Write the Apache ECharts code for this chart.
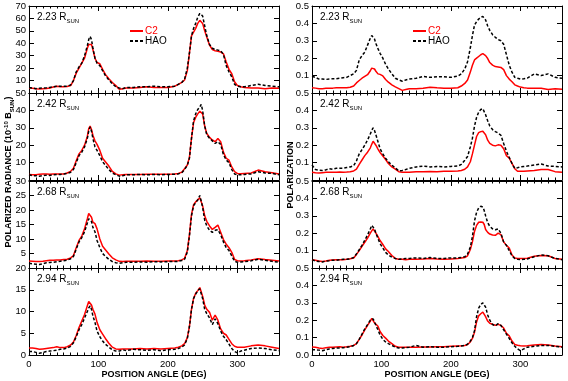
<!DOCTYPE html>
<html>
<head>
<meta charset="utf-8">
<script src="https://cdn.jsdelivr.net/npm/echarts@6/dist/echarts.min.js"></script>
<style>
  html, body { margin: 0; padding: 0; background: #fff; }
  #chart { width: 568px; height: 381px; }
</style>
</head>
<body>
<div id="chart"></div>
<script>
// position angle (deg), shared by every curve
const angles = [0, 5, 10, 15, 20, 25, 30, 35, 40, 45, 50, 55, 60,
  64, 68, 72, 76, 80, 84, 86, 88, 90, 92, 95, 98,
  102, 106, 110, 115, 120, 125, 130, 135, 140,
  150, 160, 170, 180, 190, 200, 210,
  215, 220, 224, 228, 231, 234, 237, 240, 243, 246, 248, 250, 253, 256, 260,
  264, 268, 272, 276, 280, 284, 288, 292, 296, 300,
  305, 310, 320, 330, 340, 350, 360]

const heights = ['2.23', '2.42', '2.68', '2.94']

// polarized radiance (1e-10 Bsun)
const c2_223 = [4, 3.8, 3.5, 3.3, 3.5, 3.6, 4, 4.8, 5.5, 5, 5, 5.2, 6,
  10, 16, 20, 24, 28, 36, 39, 40.5, 39, 35, 28, 24.5,
  23.5, 19, 15, 11.5, 8.5, 6, 3, 3.5, 4,
  4, 4.5, 5, 4.5, 4.5, 4.5, 5.5,
  7, 8.5, 10.5, 18, 32, 46, 49, 52, 56, 58.5, 59.5, 56, 50, 45, 38.5,
  35, 34, 33.5, 33, 31.5, 25, 19, 15.5, 9, 6,
  5, 4.5, 4, 4, 3.5, 4, 3.8]
const hao_223 = [4.5, 4, 3.5, 3.8, 4, 4.2, 4.5, 5, 5.5, 5.5, 5.5, 5.5, 6.5,
  10, 17, 21, 24, 30, 38, 43, 45.5, 43, 36, 28, 24,
  22, 18, 14, 10.5, 7.5, 5, 4, 3.5, 4.5,
  4.5, 5, 5, 5.5, 5, 5, 5.5,
  7, 8.5, 11, 20, 32, 46, 52, 56, 61, 64, 65, 62, 54, 46, 39,
  36, 35, 34.5, 34, 31, 22, 17, 13, 7, 5.5,
  5, 5, 6, 7, 6, 5.5, 5]
const c2_242 = [3.2, 3, 3, 3.3, 3.5, 3.5, 3.3, 3.5, 3.5, 3.5, 3.5, 4, 5,
  6.7, 11, 15, 17, 20, 25, 29.5, 31, 29, 25.7, 22.5, 20.5,
  17, 12.5, 10.5, 8, 5, 3.5, 2.8, 3, 3.2,
  3.2, 3.2, 3.3, 3.3, 3.3, 3.3, 3.5,
  3.8, 4.5, 6.5, 8.6, 13, 24, 33, 36, 38, 39.5, 40.5, 38, 31, 26.7, 24.5,
  23, 22, 23.8, 22, 16, 12.5, 11.4, 7.5, 4.8, 3.8,
  3.6, 3.8, 4, 5.7, 4.8, 4.2, 3.5]
const hao_242 = [3, 2.5, 2.5, 2.2, 2.5, 2.8, 2.6, 3, 3.2, 3.2, 3.5, 3.8, 4.5,
  6, 10, 14, 16, 19, 24, 28, 30.5, 28, 24, 19, 17,
  14, 10.5, 8.5, 6, 4, 3, 2.2, 2.5, 3,
  3, 3.2, 3, 3.2, 3, 3.2, 3.3,
  3.5, 4.2, 6, 8.5, 12.5, 24, 34, 38, 40.5, 42, 43.5, 40, 31, 26, 24,
  22.5, 21, 22, 20.5, 14.5, 11.5, 10, 6, 3.5, 3,
  3, 3.2, 3.5, 4.8, 4, 3.8, 3]
const c2_268 = [2.4, 2.3, 2.2, 2.2, 2.3, 2.5, 2.7, 2.7, 2.8, 2.8, 2.9, 3, 3.5,
  4.3, 7, 9.5, 11, 13.5, 17, 18.8, 19.3, 17.5, 15.8, 15.3, 13.5,
  10, 7.5, 6.3, 4.8, 3.5, 2.8, 2.3, 2.2, 2.3,
  2.3, 2.3, 2.4, 2.3, 2.3, 2.4, 2.4,
  2.5, 2.8, 3.3, 6, 11.5, 18.5, 21.8, 22.8, 23.5, 24.2, 24, 21.5, 18, 16.1, 14.5,
  13.3, 14, 14.8, 12.3, 9.8, 8.2, 7, 5.4, 3, 2.5,
  2.4, 2.5, 2.8, 3.2, 2.9, 2.7, 2.4]
const hao_268 = [1.6, 1.4, 1.3, 1.2, 1.5, 1.8, 1.9, 2, 2.2, 2.3, 2.5, 2.7, 3.2,
  4, 6.5, 9, 10.5, 12.5, 15.5, 17, 17.5, 16, 14, 12.5, 9.5,
  7, 5, 4, 3, 2.2, 1.8, 1.6, 1.8, 2,
  2, 2.1, 2, 2.2, 2.1, 2.2, 2.2,
  2.3, 2.6, 3, 5.5, 11, 18, 21.5, 22.5, 23.5, 25, 24.5, 21, 16.5, 14.5, 13,
  12.3, 13, 13.2, 11.5, 9, 7, 6, 4.2, 2.3, 2,
  2.1, 2.2, 2.5, 3, 2.7, 2.3, 2]
const c2_294 = [1.6, 1.6, 1.5, 1.3, 1.4, 1.5, 1.6, 1.7, 1.9, 1.7, 1.7, 1.9, 2.3,
  3, 4.5, 6.3, 7.8, 9.3, 11.3, 12.3, 12.6, 11.5, 10.5, 9.4, 7.5,
  5.8, 4.8, 3.8, 2.7, 1.8, 1.4, 1.3, 1.4, 1.4,
  1.4, 1.5, 1.4, 1.5, 1.4, 1.5, 1.6,
  1.8, 2.1, 2.6, 4, 6.5, 10.5, 13, 14.2, 14.8, 15.5, 15.2, 13.5, 11.5, 10.5, 9.8,
  8, 9.2, 8, 6, 5, 4.6, 3.6, 2.6, 2, 1.8,
  1.8, 1.8, 2.1, 2.3, 2.1, 1.8, 1.5]
const hao_294 = [0.8, 0.8, 0.6, 0.4, 0.6, 0.8, 0.9, 1, 1.1, 1.3, 1.4, 1.6, 2,
  2.8, 4.2, 5.8, 7, 8.5, 10, 10.8, 11.3, 10.5, 9, 7.5, 5.5,
  4.2, 3.2, 2.5, 1.8, 1.2, 0.9, 0.9, 1.2, 1,
  1.3, 1.2, 1.1, 1.2, 1, 1.2, 1.3,
  1.5, 1.8, 2.3, 3.8, 6.5, 10.5, 13, 14, 14.8, 15.2, 15, 13, 10.5, 9.5, 8.5,
  7, 8.3, 7.2, 5.5, 4.3, 3.5, 2.5, 1.5, 0.8, 0.5,
  0.9, 1.1, 1.5, 1.6, 1.5, 1.2, 1]

// polarization
const c2p_223 = [0.03, 0.028, 0.025, 0.025, 0.027, 0.027, 0.028, 0.03, 0.03, 0.03, 0.03, 0.033, 0.04,
  0.058, 0.072, 0.085, 0.095, 0.105, 0.128, 0.143, 0.147, 0.138, 0.125, 0.11, 0.107,
  0.098, 0.078, 0.062, 0.047, 0.035, 0.025, 0.015, 0.02, 0.025,
  0.025, 0.027, 0.033, 0.03, 0.028, 0.027, 0.03,
  0.04, 0.055, 0.075, 0.12, 0.16, 0.19, 0.2, 0.21, 0.22, 0.226, 0.226, 0.215, 0.198, 0.175, 0.16,
  0.152, 0.15, 0.147, 0.134, 0.1, 0.08, 0.065, 0.047, 0.04, 0.034,
  0.03, 0.028, 0.027, 0.027, 0.02, 0.025, 0.022]
const haop_223 = [0.096, 0.09, 0.08, 0.08, 0.078, 0.08, 0.082, 0.082, 0.085, 0.088, 0.09, 0.1, 0.11,
  0.13, 0.19, 0.215, 0.235, 0.275, 0.315, 0.33, 0.325, 0.31, 0.285, 0.255, 0.228,
  0.2, 0.165, 0.138, 0.11, 0.085, 0.075, 0.068, 0.075, 0.08,
  0.085, 0.095, 0.09, 0.093, 0.093, 0.09, 0.097,
  0.11, 0.138, 0.18, 0.26, 0.33, 0.39, 0.41, 0.425, 0.435, 0.44, 0.435, 0.42, 0.385, 0.36, 0.335,
  0.32, 0.307, 0.3, 0.28, 0.22, 0.16, 0.12, 0.09, 0.085, 0.08,
  0.082, 0.085, 0.11, 0.1, 0.11, 0.09, 0.085]
const c2p_242 = [0.045, 0.042, 0.04, 0.042, 0.044, 0.045, 0.045, 0.045, 0.046, 0.045, 0.046, 0.048, 0.052,
  0.062, 0.09, 0.115, 0.14, 0.16, 0.185, 0.205, 0.223, 0.212, 0.2, 0.178, 0.158,
  0.138, 0.118, 0.095, 0.075, 0.062, 0.048, 0.045, 0.044, 0.045,
  0.047, 0.048, 0.049, 0.048, 0.05, 0.05, 0.052,
  0.055, 0.062, 0.075, 0.105, 0.15, 0.2, 0.25, 0.272, 0.278, 0.28, 0.278, 0.26, 0.229, 0.21, 0.2,
  0.196, 0.202, 0.2, 0.18, 0.14, 0.125, 0.095, 0.065, 0.05, 0.05,
  0.05, 0.052, 0.055, 0.06, 0.06, 0.048, 0.045]
const haop_242 = [0.086, 0.06, 0.057, 0.055, 0.058, 0.065, 0.062, 0.067, 0.068, 0.068, 0.072, 0.075, 0.082,
  0.11, 0.15, 0.175, 0.2, 0.23, 0.265, 0.285, 0.3, 0.285, 0.26, 0.22, 0.18,
  0.15, 0.125, 0.105, 0.085, 0.07, 0.052, 0.055, 0.06, 0.067,
  0.075, 0.08, 0.075, 0.078, 0.075, 0.078, 0.08,
  0.09, 0.114, 0.135, 0.19, 0.24, 0.31, 0.36, 0.39, 0.405, 0.41, 0.4, 0.375, 0.34, 0.31, 0.29,
  0.278, 0.27, 0.257, 0.21, 0.165, 0.13, 0.095, 0.067, 0.07, 0.076,
  0.078, 0.08, 0.086, 0.092, 0.08, 0.078, 0.075]
const c2p_268 = [0.048, 0.045, 0.04, 0.038, 0.04, 0.044, 0.046, 0.048, 0.048, 0.048, 0.05, 0.053, 0.058,
  0.078, 0.1, 0.125, 0.148, 0.172, 0.2, 0.213, 0.225, 0.215, 0.2, 0.18, 0.158,
  0.135, 0.11, 0.095, 0.072, 0.055, 0.05, 0.05, 0.048, 0.05,
  0.05, 0.052, 0.055, 0.052, 0.05, 0.052, 0.055,
  0.058, 0.06, 0.07, 0.106, 0.15, 0.21, 0.245, 0.263, 0.265, 0.263, 0.25, 0.221, 0.205, 0.195, 0.19,
  0.188, 0.2, 0.192, 0.15, 0.13, 0.115, 0.075, 0.058, 0.055, 0.054,
  0.055, 0.056, 0.068, 0.072, 0.07, 0.055, 0.05]
const haop_268 = [0.048, 0.04, 0.038, 0.035, 0.04, 0.042, 0.045, 0.045, 0.048, 0.05, 0.05, 0.053, 0.06,
  0.08, 0.105, 0.13, 0.16, 0.19, 0.225, 0.245, 0.25, 0.225, 0.2, 0.17, 0.14,
  0.115, 0.09, 0.075, 0.062, 0.055, 0.05, 0.052, 0.055, 0.055,
  0.058, 0.055, 0.06, 0.055, 0.055, 0.058, 0.058,
  0.06, 0.065, 0.08, 0.12, 0.18, 0.27, 0.32, 0.345, 0.355, 0.35, 0.33, 0.3, 0.26, 0.24, 0.225,
  0.22, 0.225, 0.2, 0.15, 0.13, 0.1, 0.07, 0.055, 0.05, 0.048,
  0.05, 0.052, 0.065, 0.075, 0.07, 0.055, 0.048]
const c2p_294 = [0.046, 0.045, 0.04, 0.038, 0.042, 0.045, 0.045, 0.046, 0.047, 0.045, 0.047, 0.05, 0.055,
  0.065, 0.09, 0.115, 0.144, 0.17, 0.195, 0.21, 0.205, 0.185, 0.178, 0.165, 0.135,
  0.112, 0.097, 0.08, 0.065, 0.05, 0.045, 0.044, 0.044, 0.045,
  0.045, 0.046, 0.046, 0.047, 0.048, 0.05, 0.052,
  0.053, 0.055, 0.06, 0.075, 0.095, 0.13, 0.19, 0.225, 0.237, 0.246, 0.24, 0.22, 0.195, 0.182, 0.177,
  0.17, 0.176, 0.17, 0.155, 0.125, 0.11, 0.08, 0.06, 0.056, 0.053,
  0.052, 0.053, 0.058, 0.06, 0.058, 0.052, 0.047]
const haop_294 = [0.03, 0.03, 0.028, 0.025, 0.03, 0.035, 0.038, 0.04, 0.04, 0.042, 0.045, 0.048, 0.055,
  0.065, 0.09, 0.12, 0.15, 0.175, 0.2, 0.21, 0.208, 0.19, 0.17, 0.145, 0.115,
  0.09, 0.075, 0.065, 0.055, 0.045, 0.04, 0.04, 0.043, 0.045,
  0.055, 0.045, 0.048, 0.045, 0.045, 0.048, 0.05,
  0.052, 0.055, 0.062, 0.08, 0.1, 0.14, 0.22, 0.27, 0.29, 0.3, 0.295, 0.275, 0.23, 0.2, 0.175,
  0.168, 0.18, 0.17, 0.145, 0.12, 0.095, 0.07, 0.05, 0.035, 0.025,
  0.035, 0.045, 0.05, 0.055, 0.055, 0.05, 0.045]

// axis ranges per row
const radianceMax = [70, 50, 30, 20]
const radianceStep = [10, 10, 5, 5]
const polMax = [0.5, 0.5, 0.5, 0.5]
const polStep = [0.1, 0.1, 0.1, 0.1]

const radianceC2 = [c2_223, c2_242, c2_268, c2_294]
const radianceHAO = [hao_223, hao_242, hao_268, hao_294]
const polC2 = [c2p_223, c2p_242, c2p_268, c2p_294]
const polHAO = [haop_223, haop_242, haop_268, haop_294]

const FONT = '"Liberation Sans", Arial, Helvetica, sans-serif'
const RED = '#ff0000'
const HAO_DASH = [3, 2]
const rowTops = [6, 93, 181, 268]
const colLeft = [29, 312]

const grids = []
const xAxes = []
const yAxes = []
const series = []
const graphics = []

function addPanel(col, row, yMax, yStep, c2, hao, decimals) {
  const g = grids.length
  const last = row === 3
  grids.push({ left: colLeft[col], top: rowTops[row], width: 250, height: 87 })

  const xBase = {
    type: 'value', gridIndex: g, min: 0, max: 360, interval: 100,
    axisLine: { show: true, onZero: false, lineStyle: { color: '#000', width: 1 } },
    axisTick: { show: true, inside: true, length: 5, lineStyle: { color: '#000' } },
    minorTick: { show: true, splitNumber: 10, length: 2.5, lineStyle: { color: '#000' } },
    splitLine: { show: false }
  }
  xAxes.push(Object.assign({}, xBase, {
    position: 'bottom',
    axisLabel: { show: last, showMaxLabel: false, margin: 4, fontSize: 9.5, color: '#000', fontFamily: FONT },
    name: last ? 'POSITION ANGLE (DEG)' : '',
    nameLocation: 'middle',
    nameGap: 15,
    nameTextStyle: { fontWeight: 'bold', fontSize: 9, color: '#000', fontFamily: FONT }
  }))
  xAxes.push(Object.assign({}, xBase, { position: 'top', axisLabel: { show: false } }))

  const yBase = {
    type: 'value', gridIndex: g, min: 0, max: yMax, interval: yStep,
    axisLine: { show: true, onZero: false, lineStyle: { color: '#000', width: 1 } },
    axisTick: { show: true, inside: true, length: 5, lineStyle: { color: '#000' } },
    splitLine: { show: false }
  }
  yAxes.push(Object.assign({}, yBase, {
    position: 'left',
    axisLabel: {
      showMinLabel: last, margin: 3, fontSize: 9.5, color: '#000', fontFamily: FONT,
      formatter: v => decimals ? v.toFixed(1) : String(Math.round(v))
    }
  }))
  yAxes.push(Object.assign({}, yBase, { position: 'right', axisLabel: { show: false } }))

  series.push({
    name: 'C2', type: 'line', xAxisIndex: 2 * g, yAxisIndex: 2 * g,
    data: angles.map((a, k) => [a, c2[k]]),
    symbol: 'none', lineStyle: { color: RED, width: 1.5 }, itemStyle: { color: RED },
    z: 2
  })
  series.push({
    name: 'HAO', type: 'line', xAxisIndex: 2 * g, yAxisIndex: 2 * g,
    data: angles.map((a, k) => [a, hao[k]]),
    symbol: 'none', lineStyle: { color: '#000', width: 1.5, type: HAO_DASH }, itemStyle: { color: '#000' },
    z: 3
  })

  graphics.push({
    type: 'text', x: colLeft[col] + 8, y: rowTops[row] + 5,
    style: {
      text: '{n|' + heights[row] + ' R}{s|SUN}',
      rich: {
        n: { fontSize: 10, lineHeight: 13, fontFamily: FONT, fill: '#000' },
        s: { fontSize: 6, lineHeight: 6, verticalAlign: 'bottom', fontFamily: FONT, fill: '#000' }
      }
    }
  })
}

for (let r = 0; r < 4; r++) {
  addPanel(0, r, radianceMax[r], radianceStep[r], radianceC2[r], radianceHAO[r], false)
  addPanel(1, r, polMax[r], polStep[r], polC2[r], polHAO[r], true)
}

// legend keys drawn in the top panel of each column
const legendX = [130, 413]
legendX.forEach(x => {
  graphics.push({ type: 'line', shape: { x1: x, y1: 31, x2: x + 13, y2: 31 }, style: { stroke: RED, lineWidth: 2 } })
  graphics.push({ type: 'text', x: x + 15, y: 31, style: { text: 'C2', fill: RED, font: '10px ' + FONT, verticalAlign: 'middle' } })
  graphics.push({ type: 'line', shape: { x1: x, y1: 41, x2: x + 13, y2: 41 }, style: { stroke: '#000', lineWidth: 2, lineDash: HAO_DASH } })
  graphics.push({ type: 'text', x: x + 15, y: 41, style: { text: 'HAO', fill: '#000', font: '10px ' + FONT, verticalAlign: 'middle' } })
})

// column titles
graphics.push({
  type: 'text', x: 9, y: 172, rotation: Math.PI / 2,
  style: {
    text: '{b|POLARIZED RADIANCE (10}{p|-10}{b| B}{s|SUN}{b|)}',
    align: 'center', verticalAlign: 'middle',
    rich: {
      b: { fontSize: 9, fontWeight: 'bold', lineHeight: 12, fontFamily: FONT, fill: '#000' },
      p: { fontSize: 6, fontWeight: 'bold', lineHeight: 6, verticalAlign: 'top', fontFamily: FONT, fill: '#000' },
      s: { fontSize: 6, fontWeight: 'bold', lineHeight: 6, verticalAlign: 'bottom', fontFamily: FONT, fill: '#000' }
    }
  }
})
graphics.push({
  type: 'text', x: 291, y: 175, rotation: Math.PI / 2,
  style: {
    text: 'POLARIZATION', align: 'center', verticalAlign: 'middle',
    font: 'bold 9px ' + FONT, fill: '#000'
  }
})

const chart = echarts.init(document.getElementById('chart'))
chart.setOption({
  animation: false,
  backgroundColor: '#fff',
  grid: grids,
  xAxis: xAxes,
  yAxis: yAxes,
  graphic: graphics,
  series: series
})
</script>
</body>
</html>
